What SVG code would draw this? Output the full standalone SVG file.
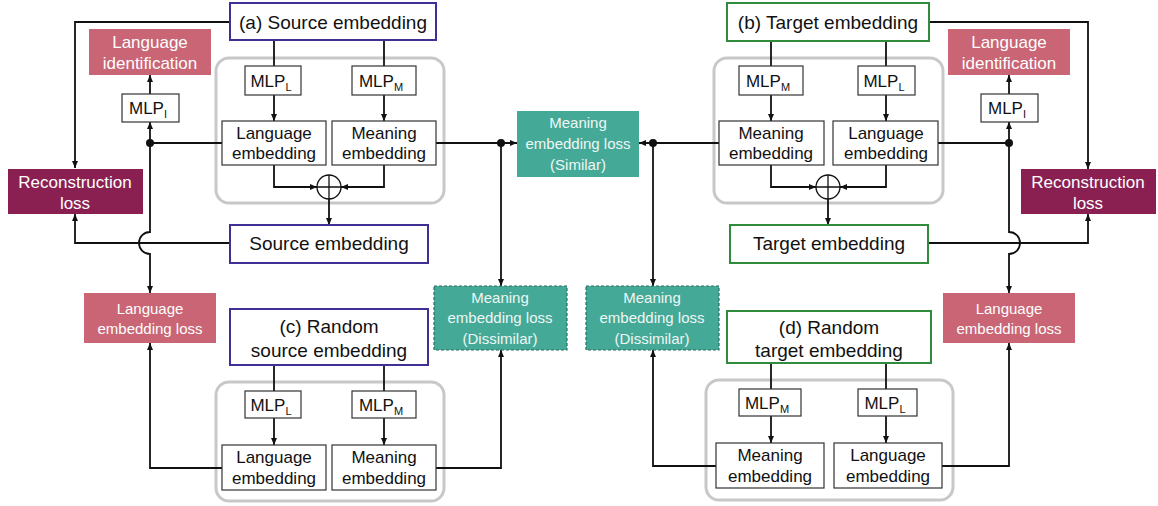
<svg xmlns="http://www.w3.org/2000/svg" width="1158" height="506" viewBox="0 0 1158 506">
<style>
text{font-family:"Liberation Sans",Arial,sans-serif;text-anchor:middle;fill:#111}
.t19{font-size:19px}.t17{font-size:17px}.t15{font-size:15px}
.sub{font-size:11px}
.w{fill:#fff}.wt{fill:#eef7f5}
.box{fill:#fff;stroke:#333;stroke-width:1.2}
.src{fill:#fff;stroke:#3f3096;stroke-width:2}
.tgt{fill:#fff;stroke:#2e8c3c;stroke-width:2}
.cont{fill:none;stroke:#c8c8c8;stroke-width:3}
.pink{fill:#c96574}
.mag{fill:#8a2052}
.teal{fill:#45a997}
.dteal{fill:#45a997;stroke:#2c6e62;stroke-width:1.2;stroke-dasharray:3 2}
.c{fill:none;stroke:#111;stroke-width:1.8}
.a{marker-end:url(#ah)}
.dot{fill:#111}
</style>
<defs>
<marker id="ah" viewBox="0 0 7 6" refX="7" refY="3" markerWidth="7" markerHeight="6" markerUnits="userSpaceOnUse" orient="auto">
<path d="M0,0 L7,3 L0,6 z" fill="#111"/>
</marker>
</defs>

<!-- containers -->
<rect class="cont" x="216" y="58" width="228" height="145" rx="13"/>
<rect class="cont" x="714" y="58" width="229" height="145" rx="13"/>
<rect class="cont" x="216" y="382" width="228" height="119" rx="13"/>
<rect class="cont" x="706" y="380" width="247" height="120" rx="13"/>

<g id="connectors">
<!-- left top -->
<path class="c a" d="M230,22 H75 V168"/>
<path class="c" d="M274,40 V66"/>
<path class="c" d="M384,40 V66"/>
<path class="c a" d="M274,95 V121"/>
<path class="c a" d="M384,95 V121"/>
<path class="c a" d="M274,165 V187 H317"/>
<path class="c a" d="M384,165 V187 H341"/>
<path class="c a" d="M329,199 V225"/>
<path class="c" d="M222,143 H150"/>
<path class="c a" d="M150,143 V122"/>
<path class="c a" d="M150,94 V75"/>
<path class="c a" d="M150,143 V232 A11,11 0 0 0 150,254 V293"/>
<path class="c a" d="M230,243 H75 V214"/>
<path class="c a" d="M436,143 H517"/>
<path class="c a" d="M501,143 V286"/>
<!-- left bottom -->
<path class="c a" d="M436,468 H501 V350"/>
<path class="c" d="M274,365 V391"/>
<path class="c" d="M384,365 V391"/>
<path class="c a" d="M274,418 V445"/>
<path class="c a" d="M384,418 V445"/>
<path class="c a" d="M222,468 H150 V343"/>
<!-- right top -->
<path class="c a" d="M929,22 H1088 V169"/>
<path class="c" d="M771,41 V66"/>
<path class="c" d="M886,41 V66"/>
<path class="c a" d="M771,95 V121"/>
<path class="c a" d="M886,95 V121"/>
<path class="c a" d="M771,165 V187 H816"/>
<path class="c a" d="M886,165 V187 H840"/>
<path class="c a" d="M828,199 V225"/>
<path class="c" d="M938,143 H1009"/>
<path class="c a" d="M1009,143 V122"/>
<path class="c a" d="M1009,94 V75"/>
<path class="c a" d="M1009,143 V232 A11,11 0 0 1 1009,254 V293"/>
<path class="c a" d="M928,243 H1088 V214"/>
<path class="c a" d="M719,143 H639"/>
<path class="c a" d="M653,143 V286"/>
<!-- right bottom -->
<path class="c a" d="M716,466 H653 V350"/>
<path class="c" d="M771,363 V389"/>
<path class="c" d="M886,363 V389"/>
<path class="c a" d="M771,416 V443"/>
<path class="c a" d="M886,416 V443"/>
<path class="c a" d="M942,466 H1009 V343"/>
<!-- dots -->
<circle class="dot" cx="150" cy="143" r="4"/>
<circle class="dot" cx="501" cy="143" r="4"/>
<circle class="dot" cx="653" cy="143" r="4"/>
<circle class="dot" cx="1009" cy="143" r="4"/>
</g>

<!-- ===== Left side ===== -->
<g id="a-source">
<rect class="src" x="230" y="3" width="206" height="37"/>
<text class="t19" x="333" y="29">(a) Source embedding</text>
</g>
<g id="lang-id-left">
<rect class="pink" x="89" y="29" width="122" height="46"/>
<text class="t17 w" x="150" y="48">Language</text>
<text class="t17 w" x="150" y="69">identification</text>
</g>
<g id="mlp-i-left">
<rect class="box" x="122" y="94" width="57" height="28"/>
<text class="t17" x="148" y="114">MLP<tspan class="sub" dy="4">I</tspan></text>
</g>
<g id="recon-left">
<rect class="mag" x="8" y="169" width="135" height="45"/>
<text class="t17 w" x="75" y="188">Reconstruction</text>
<text class="t17 w" x="75" y="209">loss</text>
</g>
<g id="mlp-l-a">
<rect class="box" x="245" y="66" width="56" height="29"/>
<text class="t17" x="271" y="87">MLP<tspan class="sub" dy="4">L</tspan></text>
</g>
<g id="mlp-m-a">
<rect class="box" x="352" y="66" width="64" height="29"/>
<text class="t17" x="381" y="87">MLP<tspan class="sub" dy="4">M</tspan></text>
</g>
<g id="lang-emb-a">
<rect class="box" x="222" y="121" width="104" height="44"/>
<text class="t17" x="274" y="139">Language</text>
<text class="t17" x="274" y="159">embedding</text>
</g>
<g id="mean-emb-a">
<rect class="box" x="332" y="121" width="104" height="44"/>
<text class="t17" x="384" y="139">Meaning</text>
<text class="t17" x="384" y="159">embedding</text>
</g>
<g id="plus-left">
<circle cx="329" cy="187" r="12" fill="#fff" stroke="#111" stroke-width="1.3"/>
<path d="M317,187 H341 M329,175 V199" stroke="#111" stroke-width="1.3"/>
</g>
<g id="source-emb">
<rect class="src" x="230" y="225" width="198" height="38"/>
<text class="t19" x="329" y="250">Source embedding</text>
</g>
<g id="lang-emb-loss-left">
<rect class="pink" x="84" y="293" width="132" height="50"/>
<text class="t15 w" x="150" y="314">Language</text>
<text class="t15 w" x="150" y="334">embedding loss</text>
</g>
<g id="c-random-source">
<rect class="src" x="230" y="309" width="198" height="56"/>
<text class="t19" x="329" y="333">(c) Random</text>
<text class="t19" x="329" y="357">source embedding</text>
</g>
<g id="mlp-l-c">
<rect class="box" x="245" y="391" width="56" height="27"/>
<text class="t17" x="271" y="411">MLP<tspan class="sub" dy="4">L</tspan></text>
</g>
<g id="mlp-m-c">
<rect class="box" x="352" y="391" width="64" height="27"/>
<text class="t17" x="381" y="411">MLP<tspan class="sub" dy="4">M</tspan></text>
</g>
<g id="lang-emb-c">
<rect class="box" x="222" y="445" width="104" height="45"/>
<text class="t17" x="274" y="463">Language</text>
<text class="t17" x="274" y="484">embedding</text>
</g>
<g id="mean-emb-c">
<rect class="box" x="332" y="445" width="104" height="45"/>
<text class="t17" x="384" y="463">Meaning</text>
<text class="t17" x="384" y="484">embedding</text>
</g>

<!-- ===== Center ===== -->
<g id="mean-loss-similar">
<rect class="teal" x="517" y="111" width="122" height="66"/>
<text class="t15 wt" x="578" y="128">Meaning</text>
<text class="t15 wt" x="578" y="149">embedding loss</text>
<text class="t15 wt" x="578" y="170">(Similar)</text>
</g>
<g id="mean-loss-dissimilar-left">
<rect class="dteal" x="434" y="286" width="133" height="64"/>
<text class="t15 wt" x="500" y="303">Meaning</text>
<text class="t15 wt" x="500" y="323">embedding loss</text>
<text class="t15 wt" x="500" y="344">(Dissimilar)</text>
</g>
<g id="mean-loss-dissimilar-right">
<rect class="dteal" x="586" y="286" width="133" height="64"/>
<text class="t15 wt" x="652" y="303">Meaning</text>
<text class="t15 wt" x="652" y="323">embedding loss</text>
<text class="t15 wt" x="652" y="344">(Dissimilar)</text>
</g>

<!-- ===== Right side ===== -->
<g id="b-target">
<rect class="tgt" x="727" y="3" width="202" height="38"/>
<text class="t19" x="828" y="29">(b) Target embedding</text>
</g>
<g id="lang-id-right">
<rect class="pink" x="948" y="29" width="122" height="46"/>
<text class="t17 w" x="1009" y="48">Language</text>
<text class="t17 w" x="1009" y="69">identification</text>
</g>
<g id="mlp-i-right">
<rect class="box" x="981" y="94" width="57" height="28"/>
<text class="t17" x="1007" y="114">MLP<tspan class="sub" dy="4">I</tspan></text>
</g>
<g id="recon-right">
<rect class="mag" x="1021" y="169" width="135" height="45"/>
<text class="t17 w" x="1088" y="188">Reconstruction</text>
<text class="t17 w" x="1088" y="209">loss</text>
</g>
<g id="mlp-m-b">
<rect class="box" x="739" y="66" width="64" height="29"/>
<text class="t17" x="768" y="87">MLP<tspan class="sub" dy="4">M</tspan></text>
</g>
<g id="mlp-l-b">
<rect class="box" x="858" y="66" width="57" height="29"/>
<text class="t17" x="884" y="87">MLP<tspan class="sub" dy="4">L</tspan></text>
</g>
<g id="mean-emb-b">
<rect class="box" x="719" y="121" width="105" height="44"/>
<text class="t17" x="771" y="139">Meaning</text>
<text class="t17" x="771" y="159">embedding</text>
</g>
<g id="lang-emb-b">
<rect class="box" x="833" y="121" width="105" height="44"/>
<text class="t17" x="886" y="139">Language</text>
<text class="t17" x="886" y="159">embedding</text>
</g>
<g id="plus-right">
<circle cx="828" cy="187" r="12" fill="#fff" stroke="#111" stroke-width="1.3"/>
<path d="M816,187 H840 M828,175 V199" stroke="#111" stroke-width="1.3"/>
</g>
<g id="target-emb">
<rect class="tgt" x="730" y="225" width="198" height="38"/>
<text class="t19" x="829" y="250">Target embedding</text>
</g>
<g id="lang-emb-loss-right">
<rect class="pink" x="943" y="293" width="132" height="50"/>
<text class="t15 w" x="1009" y="314">Language</text>
<text class="t15 w" x="1009" y="334">embedding loss</text>
</g>
<g id="d-random-target">
<rect class="tgt" x="727" y="311" width="204" height="52"/>
<text class="t19" x="829" y="334">(d) Random</text>
<text class="t19" x="829" y="357">target embedding</text>
</g>
<g id="mlp-m-d">
<rect class="box" x="739" y="389" width="62" height="27"/>
<text class="t17" x="767" y="409">MLP<tspan class="sub" dy="4">M</tspan></text>
</g>
<g id="mlp-l-d">
<rect class="box" x="858" y="389" width="59" height="27"/>
<text class="t17" x="885" y="409">MLP<tspan class="sub" dy="4">L</tspan></text>
</g>
<g id="mean-emb-d">
<rect class="box" x="716" y="443" width="108" height="45"/>
<text class="t17" x="770" y="461">Meaning</text>
<text class="t17" x="770" y="482">embedding</text>
</g>
<g id="lang-emb-d">
<rect class="box" x="834" y="443" width="108" height="45"/>
<text class="t17" x="888" y="461">Language</text>
<text class="t17" x="888" y="482">embedding</text>
</g>
</svg>
